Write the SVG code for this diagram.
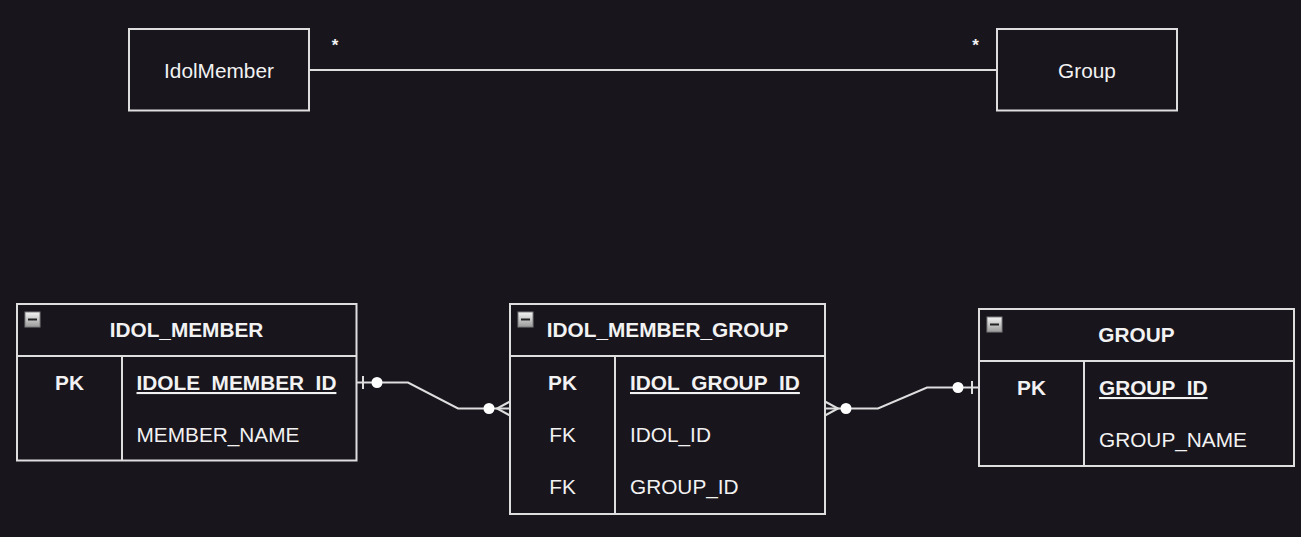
<svg xmlns="http://www.w3.org/2000/svg" width="1301" height="537" viewBox="0 0 1301 537">
<defs>
<style>
.box{fill:#18151d;stroke:#dedede;stroke-width:2}
.ln{fill:none;stroke:#dedede;stroke-width:2}
.t{font-family:"Liberation Sans",Arial,sans-serif;font-size:20.8px;fill:#f2f2f2}
.b{font-weight:bold}
.m{text-anchor:middle}
.u{text-decoration:underline}
.dot{fill:#ffffff;stroke:none}
.star{font-size:17px;font-weight:bold}
</style>
<linearGradient id="ig" x1="0" y1="0" x2="0" y2="1">
<stop offset="0" stop-color="#f4f4f4"/>
<stop offset="1" stop-color="#9a9a9a"/>
</linearGradient>
<g id="icon">
<rect x="0.5" y="0.5" width="15" height="15" fill="url(#ig)" stroke="#7d7d7d" stroke-width="1"/>
<rect x="3.5" y="7" width="9" height="2" fill="#222"/>
</g>
</defs>
<rect x="0" y="0" width="1301" height="537" fill="#18151d"/>

<g id="connectors">
<line class="ln" x1="309" y1="70" x2="997" y2="70"/>
<text class="t m star" x="335" y="51">*</text>
<text class="t m star" x="975.5" y="51">*</text>
<!-- IDOL_MEMBER -> IDOL_MEMBER_GROUP -->
<polyline class="ln" points="357,382.5 408,382.5 458,408.5 510,408.5"/>
<line class="ln" x1="363" y1="376" x2="363" y2="389"/>
<circle class="dot" cx="377" cy="382.5" r="5.5"/>
<circle class="dot" cx="489" cy="408.5" r="5.5"/>
<polyline class="ln" points="510,401.5 497,408.5 510,415.5"/>
<!-- IDOL_MEMBER_GROUP -> GROUP -->
<polyline class="ln" points="825,408.5 878,408.5 927,387.5 979,387.5"/>
<polyline class="ln" points="825,401.5 838,408.5 825,415.5"/>
<circle class="dot" cx="846" cy="408.5" r="5.5"/>
<circle class="dot" cx="958" cy="387.5" r="5.5"/>
<line class="ln" x1="972" y1="381" x2="972" y2="394"/>
</g>

<g id="node-idolmember">
<rect class="box" x="129" y="29" width="180" height="81.5"/>
<text class="t m" x="219" y="78">IdolMember</text>
</g>

<g id="node-group">
<rect class="box" x="997" y="29" width="180" height="81.5"/>
<text class="t m" x="1087" y="78">Group</text>
</g>

<g id="node-idol-member-table">
<rect class="box" x="17" y="304" width="339.5" height="156.5"/>
<line class="ln" x1="17" y1="356" x2="356.5" y2="356"/>
<line class="ln" x1="122" y1="356" x2="122" y2="460.5"/>
<use href="#icon" x="24.5" y="311.5"/>
<text class="t b m" x="186.5" y="337">IDOL_MEMBER</text>
<text class="t b m" x="69.5" y="390">PK</text>
<text class="t b u" x="136.5" y="390">IDOLE_MEMBER_ID</text>
<text class="t" x="136.5" y="442">MEMBER_NAME</text>
</g>

<g id="node-idol-member-group-table">
<rect class="box" x="510" y="304" width="315" height="210"/>
<line class="ln" x1="510" y1="356" x2="825" y2="356"/>
<line class="ln" x1="615" y1="356" x2="615" y2="514"/>
<use href="#icon" x="517.5" y="311.5"/>
<text class="t b m" x="667.5" y="337">IDOL_MEMBER_GROUP</text>
<text class="t b m" x="562.5" y="390">PK</text>
<text class="t b u" x="630" y="390">IDOL_GROUP_ID</text>
<text class="t m" x="562.5" y="442">FK</text>
<text class="t" x="630" y="442">IDOL_ID</text>
<text class="t m" x="562.5" y="494">FK</text>
<text class="t" x="630" y="494">GROUP_ID</text>
</g>

<g id="node-group-table">
<rect class="box" x="979" y="309" width="315" height="157"/>
<line class="ln" x1="979" y1="361" x2="1294" y2="361"/>
<line class="ln" x1="1084" y1="361" x2="1084" y2="466"/>
<use href="#icon" x="986.5" y="316.5"/>
<text class="t b m" x="1136.5" y="342">GROUP</text>
<text class="t b m" x="1031.5" y="395">PK</text>
<text class="t b u" x="1099" y="395">GROUP_ID</text>
<text class="t" x="1099" y="447">GROUP_NAME</text>
</g>
</svg>
